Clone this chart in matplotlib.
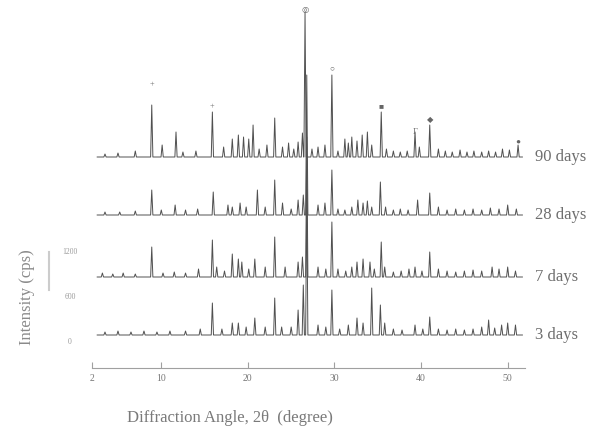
# XRD patterns of the paste at 3, 7, 28 and 90 days (scanned figure)

import numpy as np
import matplotlib
matplotlib.use('Agg')
import matplotlib.pyplot as plt

plt.rcParams['font.family'] = ['Liberation Serif', 'DejaVu Serif']

ages = ['90 days', '28 days', '7 days', '3 days']
offsets = [211, 153, 91, 33]  # stacking shift of each pattern

# peak positions (2 theta, degree) and heights
pos_90 = [3.5, 5.0, 7.0, 8.9, 10.1, 11.7, 12.5, 14.0, 15.9, 17.2, 18.2, 18.9, 19.5, 20.1, 20.6,
          21.3, 22.2, 23.1, 24.0, 24.7, 25.3, 25.8, 26.3, 26.6, 27.4, 28.1, 28.9, 29.7,
          30.4, 31.2, 31.6, 32.0, 32.6, 33.2, 33.8, 34.3, 35.4, 36.0, 36.8, 37.6, 38.4,
          39.3, 39.8, 41.0, 42.0, 42.8, 43.6, 44.5, 45.3, 46.1, 47.0, 47.8, 48.6, 49.4,
          50.2, 51.2]
hgt_90 = [3, 4, 6, 52, 12, 25, 5, 6, 45, 10, 18, 22, 20, 18, 32,
          8, 12, 39, 10, 14, 8, 15, 24, 145, 8, 10, 12, 82,
          6, 18, 14, 20, 16, 22, 25, 12, 45, 8, 6, 5, 6,
          25, 10, 32, 8, 6, 5, 7, 5, 6, 5, 6, 5, 8,
          7, 12]

pos_28 = [3.5, 5.2, 7.0, 8.9, 10.0, 11.6, 12.8, 14.2, 16.0, 17.7, 18.2, 19.1, 19.8, 21.1,
          22.0, 23.1, 24.0, 25.0, 25.8, 26.4, 26.8, 28.1, 28.9, 29.7, 30.4, 31.2, 32.0,
          32.7, 33.3, 33.8, 34.3, 35.3, 35.9, 36.8, 37.6, 38.5, 39.6, 41.0, 42.0, 43.0,
          44.0, 45.0, 46.0, 47.0, 48.0, 49.0, 50.0, 51.0]
hgt_28 = [3, 3, 4, 25, 5, 10, 5, 6, 23, 10, 8, 12, 8, 25,
          8, 35, 12, 6, 15, 20, 140, 10, 12, 45, 6, 5, 8,
          15, 12, 14, 8, 33, 8, 5, 6, 5, 15, 22, 8, 5,
          6, 5, 6, 5, 7, 6, 10, 6]

pos_7 = [3.2, 4.4, 5.6, 7.0, 8.9, 10.2, 11.5, 12.8, 14.3, 15.9, 16.4, 17.3, 18.2, 18.9,
         19.3, 20.1, 20.8, 22.0, 23.1, 24.3, 25.8, 26.3, 26.8, 28.1, 29.0, 29.7, 30.4,
         31.3, 32.0, 32.6, 33.3, 34.1, 34.6, 35.4, 35.8, 36.8, 37.7, 38.6, 39.3, 40.1,
         41.0, 42.0, 43.0, 44.0, 45.0, 46.0, 47.0, 48.2, 49.0, 50.0, 50.9]
hgt_7 = [4, 3, 4, 3, 30, 4, 5, 4, 8, 37, 10, 6, 23, 18,
         15, 8, 18, 10, 40, 10, 15, 20, 140, 10, 8, 55, 8,
         6, 10, 15, 18, 15, 8, 35, 10, 5, 6, 8, 10, 6,
         25, 8, 6, 5, 6, 7, 6, 10, 8, 10, 6]

pos_3 = [3.5, 5.0, 6.5, 8.0, 9.5, 11.0, 12.8, 14.5, 15.9, 17.0, 18.2, 18.9, 19.8, 20.8,
         22.0, 23.1, 23.9, 25.0, 25.8, 26.4, 26.8, 28.1, 29.0, 29.7, 30.6, 31.6, 32.6,
         33.3, 34.3, 35.3, 35.8, 36.8, 37.8, 39.3, 40.2, 41.0, 42.0, 43.0, 44.0, 45.0,
         46.0, 47.0, 47.8, 48.5, 49.3, 50.0, 50.9]
hgt_3 = [3, 4, 3, 4, 3, 4, 4, 6, 32, 6, 12, 12, 8, 17,
         8, 37, 8, 8, 25, 50, 145, 10, 8, 45, 6, 10, 17,
         12, 47, 30, 12, 6, 5, 10, 6, 18, 6, 5, 6, 5,
         6, 8, 15, 7, 10, 12, 10]

peaks = [(pos_90, hgt_90), (pos_28, hgt_28), (pos_7, hgt_7), (pos_3, hgt_3)]

# phase marks above the 90 days pattern: symbol, 2 theta, height
mark_sym = ['+', '+', '\u25ce', '\u25cb', '\u25a0', '\u25c6', '\u0393', '\u25cf']
mark_x = [8.9, 15.9, 26.6, 29.7, 35.4, 41.0, 39.3, 51.2]
mark_y = [284, 262, 358, 300, 262, 248, 236, 226]

x_start, x_end = 2.6, 51.7
half_w = 0.13


def pattern(pos, hgt):
    """turn the peak list into a line of narrow peaks on a flat baseline"""
    xs, ys = [x_start], [0.0]
    for p, h in sorted(zip(pos, hgt)):
        xs += [p - half_w, p, p + half_w]
        ys += [0.0, h, 0.0]
    xs.append(x_end)
    ys.append(0.0)
    return np.array(xs), np.array(ys)


fig = plt.figure(figsize=(6.13, 4.29), dpi=100)
W, H = 613, 429
ax = fig.add_axes([92 / W, 1 - 368 / H, (525 - 92) / W, 368 / H])

for (pos, hgt), off, age in zip(peaks, offsets, ages):
    xs, ys = pattern(pos, hgt)
    ax.plot(xs, ys + off, color='#505050', lw=0.7)
    ax.text(53.2, off, age, fontsize=12, color='#6e6e6e', va='center', ha='left',
            clip_on=False)

for s, mx, my in zip(mark_sym, mark_x, mark_y):
    ax.text(mx, my, s, fontsize=6, color='#666666', ha='center', va='center',
            clip_on=False)

ax.set_xlim(2, 52)
ax.set_ylim(0, 368)
for side in ['top', 'right', 'left']:
    ax.spines[side].set_visible(False)
ax.spines['bottom'].set_color('#a0a0a0')
ax.spines['bottom'].set_linewidth(0.8)
ax.set_yticks([])
ax.set_xticks([2, 10, 20, 30, 40, 50])
ax.tick_params(axis='x', direction='in', length=4, color='#a0a0a0', labelsize=7,
               labelcolor='#777777', pad=4)

ax.set_xlabel('Diffraction Angle, 2\u03b8  (degree)', fontsize=12, color='#7a7a7a',
              labelpad=16)
ax.xaxis.set_label_coords(230 / 433 - 92 / 433, -42 / 368)

fig.text(27 / W, 1 - 297 / H, 'Intensity (cps)', rotation=90, fontsize=12,
         color='#8a8a8a', ha='center', va='center')

# small intensity scale at the left
for lab, yy in zip(['1200', '600', '0'], [252, 297, 342]):
    fig.text(70 / W, 1 - yy / H, lab, fontsize=5.5, color='#999999', ha='center',
             va='center')
fig.add_artist(plt.Line2D([49 / W, 49 / W], [1 - 252 / H, 1 - 290 / H],
                          color='#cccccc', lw=1.5))

fig.savefig('out.png', dpi=100)
